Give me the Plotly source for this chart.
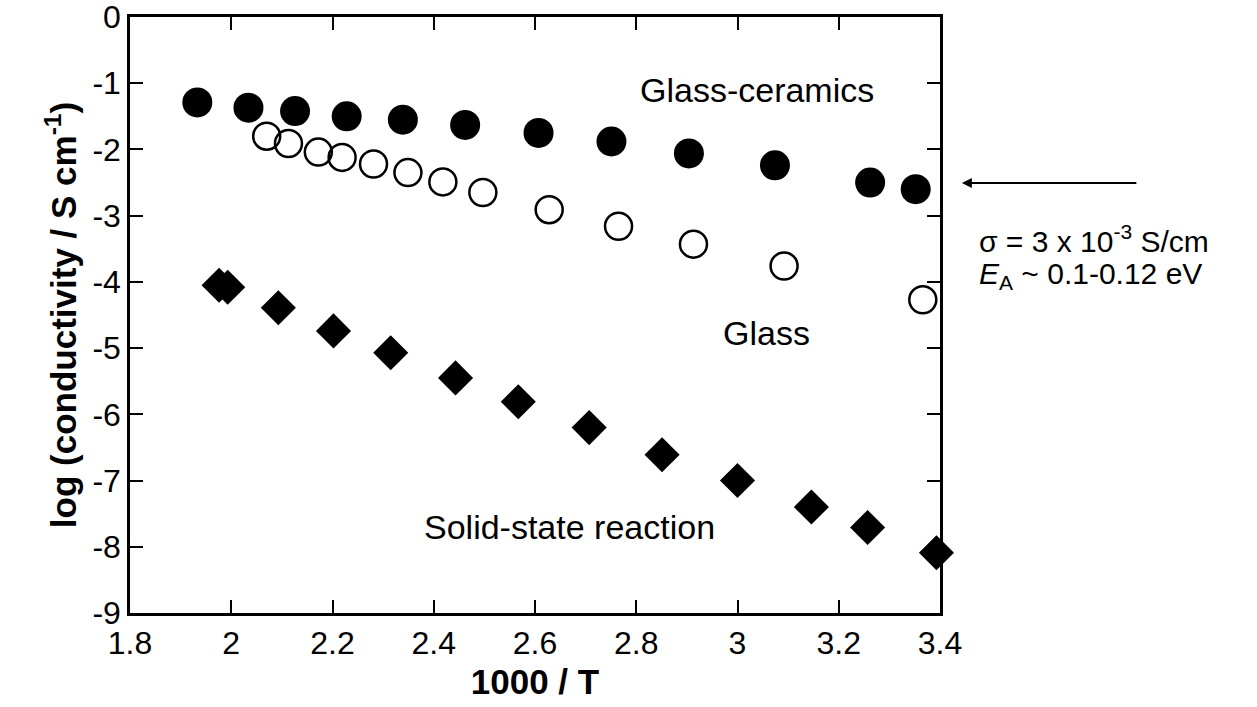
import plotly.graph_objects as go

# Glass-ceramics (filled circles)
gc_x = [1.933, 2.034, 2.126, 2.228, 2.339, 2.462, 2.607, 2.751, 2.904, 3.074, 3.262, 3.352]
gc_y = [-1.29, -1.37, -1.42, -1.50, -1.55, -1.63, -1.75, -1.88, -2.06, -2.24, -2.50, -2.60]

# Glass (open circles)
gl_x = [2.070, 2.113, 2.172, 2.219, 2.281, 2.349, 2.418, 2.497, 2.628, 2.765, 2.913, 3.092, 3.366]
gl_y = [-1.80, -1.91, -2.04, -2.12, -2.22, -2.35, -2.49, -2.65, -2.91, -3.16, -3.43, -3.76, -4.27]

# Solid-state reaction (diamonds)
ss_x = [1.976, 1.993, 2.093, 2.202, 2.315, 2.443, 2.567, 2.707, 2.851, 3.000, 3.146, 3.257, 3.393]
ss_y = [-4.05, -4.08, -4.39, -4.74, -5.07, -5.45, -5.81, -6.20, -6.61, -7.00, -7.40, -7.71, -8.09]

x_ticks = [1.8, 2, 2.2, 2.4, 2.6, 2.8, 3, 3.2, 3.4]
x_tick_labels = ["1.8", "2", "2.2", "2.4", "2.6", "2.8", "3", "3.2", "3.4"]
y_ticks = [0, -1, -2, -3, -4, -5, -6, -7, -8, -9]
y_tick_labels = ["0", "-1", "-2", "-3", "-4", "-5", "-6", "-7", "-8", "-9"]

FONT = "Liberation Sans, Arial, sans-serif"

fig = go.Figure()
fig.add_trace(go.Scatter(x=gc_x, y=gc_y, mode="markers", name="Glass-ceramics", cliponaxis=False,
                         marker=dict(symbol="circle", size=30, color="black")))
fig.add_trace(go.Scatter(x=gl_x, y=gl_y, mode="markers", name="Glass", cliponaxis=False,
                         marker=dict(symbol="circle-open", size=27, color="black",
                                     line=dict(width=2.5, color="black"))))
fig.add_trace(go.Scatter(x=ss_x, y=ss_y, mode="markers", name="Solid-state reaction", cliponaxis=False,
                         marker=dict(symbol="diamond", size=27, color="black")))

axis_common = dict(showline=True, linecolor="black", linewidth=2.5, mirror="allticks",
                   ticks="inside", ticklen=13, tickwidth=2, tickcolor="black",
                   showgrid=False, zeroline=False, automargin=False,
                   ticklabeloverflow="allow",
                   tickfont=dict(family=FONT, size=32, color="black"))

fig.update_xaxes(range=[1.8, 3.4], tickvals=x_ticks, ticktext=x_tick_labels,
                 title=dict(text="<b>1000 / T</b>", font=dict(family=FONT, size=35, color="black"),
                            standoff=10),
                 **axis_common)
fig.update_yaxes(range=[-9, 0], tickvals=y_ticks, ticktext=y_tick_labels,
                 title=dict(text="<b>log (conductivity / S cm<sup>-1</sup>)</b>",
                            font=dict(family=FONT, size=35, color="black"), standoff=6),
                 **axis_common)

annotations = [
    dict(x=3.039, y=-1.10, xref="x", yref="y", text="Glass-ceramics", showarrow=False,
         font=dict(family=FONT, size=34, color="black")),
    dict(x=3.058, y=-4.77, xref="x", yref="y", text="Glass", showarrow=False,
         font=dict(family=FONT, size=34, color="black")),
    dict(x=2.669, y=-7.70, xref="x", yref="y", text="Solid-state reaction", showarrow=False,
         font=dict(family=FONT, size=34, color="black")),
    dict(x=1.027, y=0.7215, xref="paper", yref="paper", ax=176, ay=0, axref="pixel", ayref="pixel",
         text="", showarrow=True, arrowhead=2, arrowsize=1, arrowwidth=2, arrowcolor="black"),
    dict(x=1.0457, y=0.628, xref="paper", yref="paper", xanchor="left", yanchor="middle",
         text="σ = 3 x 10<sup>-3</sup> S/cm", showarrow=False,
         font=dict(family=FONT, size=30, color="black")),
    dict(x=1.0457, y=0.566, xref="paper", yref="paper", xanchor="left", yanchor="middle",
         text="<i>E</i><sub>A</sub> ~ 0.1-0.12 eV", showarrow=False,
         font=dict(family=FONT, size=30, color="black")),
]

fig.update_layout(width=1257, height=707, showlegend=False,
                  paper_bgcolor="white", plot_bgcolor="white",
                  margin=dict(l=130, r=317, t=17, b=94),
                  annotations=annotations)

fig.write_html("out.html", config={"displayModeBar": False},
               post_script="document.body.style.margin='0';")
